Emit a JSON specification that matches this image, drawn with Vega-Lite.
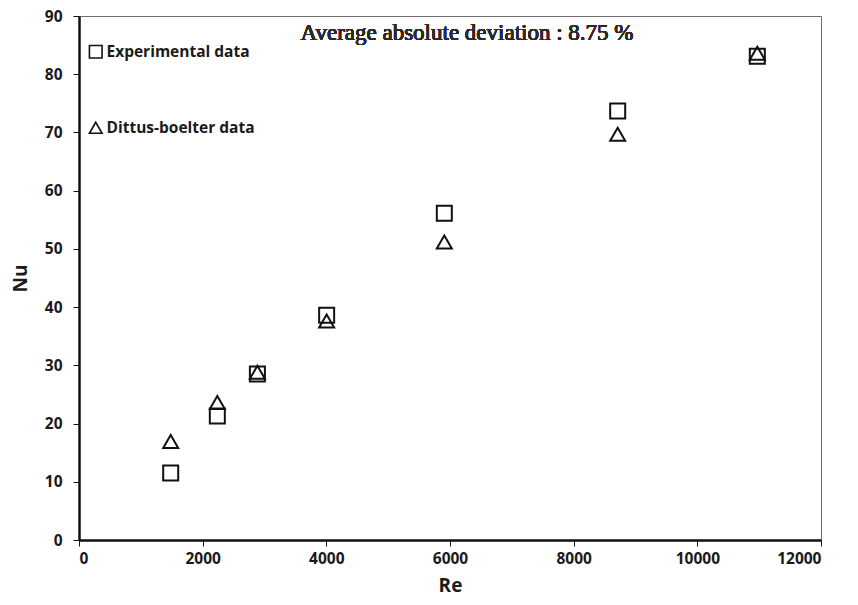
{
  "$schema": "https://vega.github.io/schema/vega-lite/v6.json",
  "autosize": "none",
  "width": 742,
  "height": 524,
  "padding": {"left": 79, "top": 16, "right": 37, "bottom": 65},
  "background": "white",
  "config": {
    "view": {"stroke": "#6e6e6e", "strokeWidth": 1},
    "font": "Open Sans",
    "axis": {
      "grid": false,
      "domainColor": "#111111",
      "domainWidth": 2.5,
      "tickColor": "#111111",
      "tickWidth": 1,
      "tickSize": 6,
      "labelFont": "Open Sans",
      "labelFontWeight": "bold",
      "labelFontSize": 15.5,
      "labelColor": "#1a1a1a",
      "titleFont": "Open Sans",
      "titleFontWeight": "bold",
      "titleFontSize": 19,
      "titleColor": "#1a1a1a"
    }
  },
  "data": {
    "values": [
      {"Re": 1483, "Nu": 11.5, "series": "Experimental data"},
      {"Re": 2237, "Nu": 21.3, "series": "Experimental data"},
      {"Re": 2885, "Nu": 28.5, "series": "Experimental data"},
      {"Re": 4005, "Nu": 38.6, "series": "Experimental data"},
      {"Re": 5908, "Nu": 56.1, "series": "Experimental data"},
      {"Re": 8712, "Nu": 73.7, "series": "Experimental data"},
      {"Re": 10970, "Nu": 83.1, "series": "Experimental data"},
      {"Re": 1483, "Nu": 16.9, "series": "Dittus-boelter data"},
      {"Re": 2237, "Nu": 23.6, "series": "Dittus-boelter data"},
      {"Re": 2885, "Nu": 28.8, "series": "Dittus-boelter data"},
      {"Re": 4005, "Nu": 37.6, "series": "Dittus-boelter data"},
      {"Re": 5908, "Nu": 51.2, "series": "Dittus-boelter data"},
      {"Re": 8712, "Nu": 69.7, "series": "Dittus-boelter data"},
      {"Re": 10970, "Nu": 83.6, "series": "Dittus-boelter data"}
    ]
  },
  "layer": [
    {
      "mark": {"type": "point", "filled": false, "size": 225, "strokeWidth": 2, "color": "#111111", "opacity": 1},
      "encoding": {
        "x": {
          "field": "Re", "type": "quantitative",
          "scale": {"domain": [0, 12000], "nice": false},
          "axis": {"values": [0, 2000, 4000, 6000, 8000, 10000, 12000], "labelPadding": 5, "title": "Re", "titlePadding": 10, "format": "d"}
        },
        "y": {
          "field": "Nu", "type": "quantitative",
          "scale": {"domain": [0, 90], "nice": false},
          "axis": {"values": [0, 10, 20, 30, 40, 50, 60, 70, 80, 90], "labelPadding": 11, "title": "Nu", "titlePadding": 14}
        },
        "shape": {
          "field": "series", "type": "nominal",
          "scale": {"domain": ["Experimental data", "Dittus-boelter data"], "range": ["square", "triangle-up"]},
          "legend": {
            "orient": "none", "legendX": 9, "legendY": 28, "title": null,
            "symbolSize": 160, "symbolStrokeWidth": 1.6, "symbolStrokeColor": "#111111", "symbolFillColor": "transparent",
            "labelFont": "Open Sans", "labelFontWeight": "bold", "labelFontSize": 15.5, "labelColor": "#1a1a1a",
            "labelOffset": 3, "rowPadding": 57
          }
        }
      }
    },
    {
      "mark": {"type": "text", "font": "Times New Roman, Liberation Serif, serif", "fontWeight": "normal", "fontSize": 23, "fill": "#2a2a2a", "align": "center", "baseline": "middle"},
      "encoding": {
        "x": {"datum": 6275, "type": "quantitative"},
        "y": {"datum": 87, "type": "quantitative"},
        "text": {"value": "Average absolute deviation : 8.75 %"}
      }
    }
  ]
}
